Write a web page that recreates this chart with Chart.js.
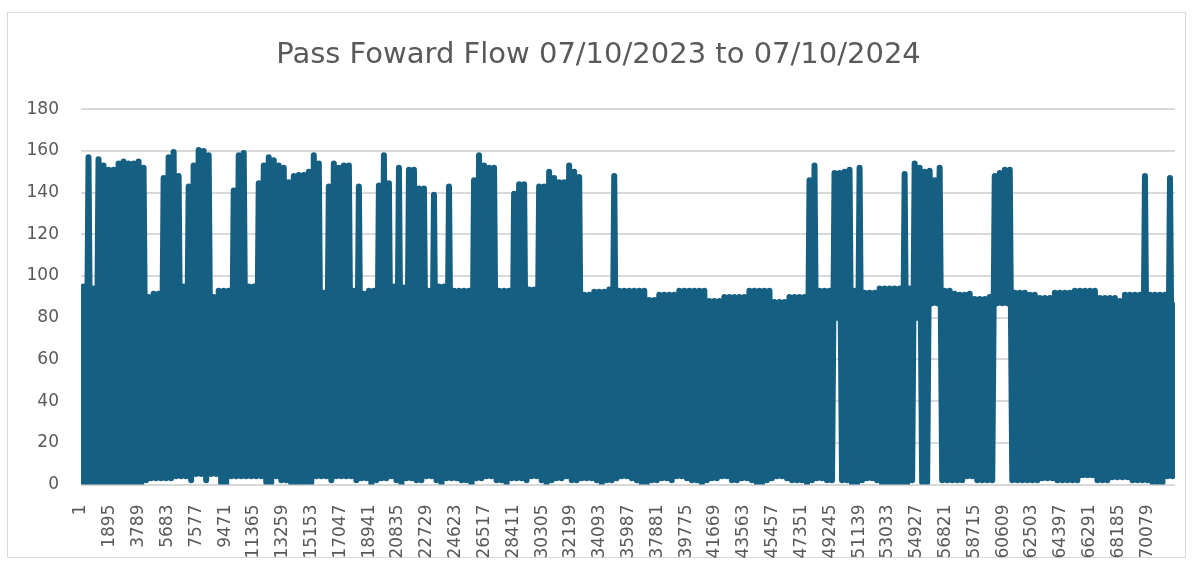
<!DOCTYPE html>
<html>
<head>
<meta charset="utf-8">
<script src="https://cdn.jsdelivr.net/npm/chart.js@4.4.1/dist/chart.umd.min.js"></script>
<style>
    body { margin: 0; background: #fff; }
    .chart_box { position: relative; width: 1192px; height: 570px; }
</style>
</head>
<body>
<div class="chart_box"><canvas id="flow_chart"></canvas></div>
<script>
// sample numbers shown under the x axis
const tick_labels = [1, 1895, 3789, 5683, 7577, 9471, 11365, 13259, 15153, 17047,
    18941, 20835, 22729, 24623, 26517, 28411, 30305, 32199, 34093, 35987,
    37881, 39775, 41669, 43563, 45457, 47351, 49245, 51139, 53033, 54927,
    56821, 58715, 60609, 62503, 64397, 66291, 68185, 70079]
const first_sample = 1
const last_sample = 71900

// flow swings hard between a trough and a peak left to right
const peaks = [
    95, 157, 94, 156, 153, 151, 151, 154, 155, 154,
    154, 155, 152, 90, 91.5, 91.5, 147, 157, 159.5, 148,
    95, 143, 153, 160.5, 160, 158, 90, 93, 93, 93,
    141, 158, 159, 95, 95, 144.5, 153, 157, 155.5, 153,
    152, 145, 148, 148.5, 148.5, 150, 158, 154, 92, 143,
    154, 152, 153, 153, 93, 143, 91.5, 93, 93, 143.5,
    158, 144.5, 95, 152, 94.5, 151, 151, 142, 142, 93,
    139, 95, 95, 143, 93, 93, 93, 93, 146, 158,
    153, 152, 152, 93, 93, 93, 139.5, 144, 144, 93.5,
    93.5, 143, 143, 150, 147, 145, 145, 153, 150, 147.5,
    91, 91, 92.5, 92.5, 92.5, 93.5, 148, 93, 93, 93,
    93, 93, 93, 88.5, 88.5, 91, 91, 91, 91, 93,
    93, 93, 93, 93, 93, 88, 88, 88, 90, 90,
    90, 90, 90, 93, 93, 93, 93, 93, 87.5, 87.5,
    87.5, 90, 90, 90, 90, 146, 153, 93, 93, 93,
    149.5, 149.5, 150, 151, 93, 152, 92, 92, 92, 94,
    94, 94, 94, 94, 149, 94, 154, 152, 150, 150.5,
    146, 152, 93, 93, 91.5, 91, 91, 91.5, 89, 89,
    89, 90, 148, 149.5, 151, 151, 92, 92, 92, 91,
    91, 89.5, 89.5, 89.5, 92, 92, 92, 92, 93, 93,
    93, 93, 93, 89.5, 89.5, 89.5, 89.5, 88, 91, 91,
    91, 91, 148, 91, 91, 91, 91, 147, 86
]
const troughs = [
    0, 0, 0, 0, 0, 0, 0, 0, 0, 0,
    0, 0, 0, 2, 3, 3, 3, 3, 3, 4,
    4, 4, 2, 5, 5, 2, 5, 5, 0, 0,
    4, 4, 4, 4, 4, 4, 4, 1, 1, 4,
    2, 2, 0, 0, 0, 1, 1, 4, 4, 4,
    2, 4, 4, 4, 4, 2, 3, 3, 0, 2,
    3, 3, 4, 2, 0, 3, 3, 2, 2, 4,
    4, 2, 0, 3, 3, 3, 2, 2, 0, 3,
    3, 4, 4, 2, 2, 0, 3, 3, 3, 2,
    4, 4, 2, 0, 2, 3, 3, 4, 2, 2,
    3, 3, 3, 2, 0, 2, 2, 3, 4, 4,
    3, 2, 0, 0, 2, 2, 3, 3, 2, 4,
    4, 3, 2, 2, 0, 2, 3, 3, 4, 4,
    2, 2, 3, 3, 2, 0, 0, 2, 3, 4,
    4, 3, 2, 2, 2, 0, 2, 3, 3, 2,
    2, 80, 2, 2, 0, 0, 2, 3, 3, 2,
    0, 0, 0, 0, 0, 0, 2, 80, 1, 1,
    87, 87, 2, 2, 2, 2, 2, 4, 4, 2,
    2, 2, 2, 87, 87, 87, 2, 2, 2, 2,
    2, 2, 3, 3, 3, 2, 2, 2, 2, 2,
    4.5, 4.5, 4.5, 2, 2, 2, 3.5, 3.5, 3.5, 3.5,
    2, 2, 2, 2, 1, 1, 1, 4, 4
]

const flow = []
peaks.forEach((peak, i) => flow.push(troughs[i], peak))
const step = (last_sample - first_sample) / (flow.length - 1)
const points = flow.map((y, i) => ({x: first_sample + i * step, y: y}))

const text_grey = '#595959'
const line_grey = '#d9d9d9'

const frame = {
    id: 'frame',
    beforeDraw(chart){
        const ctx = chart.ctx
        ctx.save()
        ctx.strokeStyle = line_grey
        ctx.lineWidth = 1
        ctx.strokeRect(7.5, 12.5, 1178, 545)
        ctx.restore()
    }
}

new Chart(document.getElementById('flow_chart'), {
    type: 'line',
    data: {
        datasets: [{
            data: points,
            borderColor: '#156082',
            borderWidth: 6,
            borderJoinStyle: 'round',
            borderCapStyle: 'round',
            pointRadius: 0,
            fill: false,
            clip: 0
        }]
    },
    options: {
        responsive: true,
        maintainAspectRatio: false,
        animation: false,
        events: [],
        // left padding nudges the title right, y labels still fit in their box
        layout: {padding: {left: 22, right: 17, top: 0, bottom: 0}},
        plugins: {
            legend: {display: false},
            tooltip: {enabled: false},
            title: {
                display: true,
                text: 'Pass Foward Flow 07/10/2023 to 07/10/2024',
                color: text_grey,
                font: {family: 'DejaVu Sans', size: 29, weight: 'normal'},
                padding: {top: 38, bottom: 36.5}
            }
        },
        scales: {
            x: {
                type: 'linear',
                min: first_sample,
                max: last_sample,
                afterBuildTicks: scale => { scale.ticks = tick_labels.map(v => ({value: v})) },
                afterFit: scale => { scale.height = 85.5 },
                grid: {display: false},
                border: {display: false},
                ticks: {
                    autoSkip: false,
                    minRotation: 90,
                    maxRotation: 90,
                    padding: 12,
                    color: text_grey,
                    font: {family: 'DejaVu Sans', size: 17},
                    callback: v => String(v)
                }
            },
            y: {
                min: 0,
                max: 180,
                afterFit: scale => { scale.width = 59 },
                grid: {color: line_grey, lineWidth: 2, drawTicks: false},
                border: {display: false},
                ticks: {
                    stepSize: 20,
                    padding: 22,
                    color: text_grey,
                    font: {family: 'DejaVu Sans', size: 17}
                }
            }
        }
    },
    plugins: [frame]
})
</script>
</body>
</html>
